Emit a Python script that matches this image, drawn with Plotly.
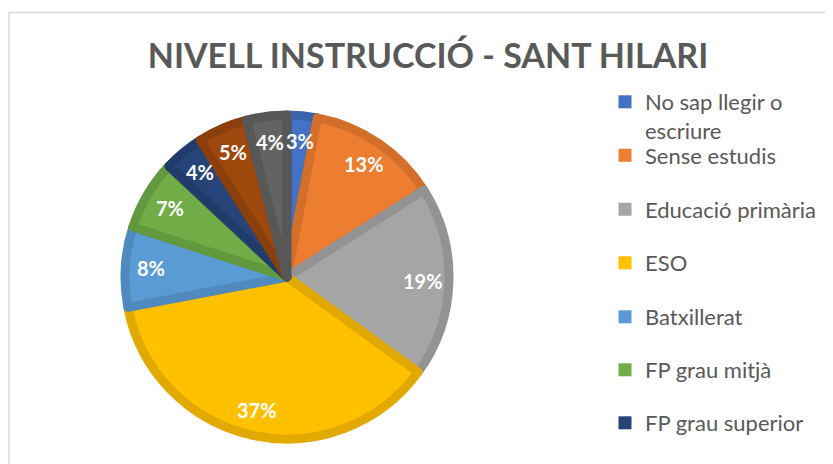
import math
import plotly.graph_objects as go

title = "NIVELL INSTRUCCIÓ - SANT HILARI"
categories = ["No sap llegir o escriure", "Sense estudis", "Educació primària", "ESO",
              "Batxillerat", "FP grau mitjà", "FP grau superior",
              "Estudis universitaris", "Postgrau"]
values = [3, 13, 19, 37, 8, 7, 4, 5, 4]
legend_labels = ["No sap llegir o<br>escriure", "Sense estudis", "Educació primària", "ESO",
                 "Batxillerat", "FP grau mitjà", "FP grau superior"]

fill_colors = ["#4472C4", "#ED7D31", "#A5A5A5", "#FFC000", "#5B9BD5",
               "#70AD47", "#264478", "#9E480E", "#636363"]
edge_colors = ["#3B64AE", "#D46F2B", "#939393", "#E2AA00", "#4F89BE",
               "#62993E", "#213C6A", "#8B3F0C", "#575757"]

W, H = 833, 464
OFF = 8  # page body margin offset
fig = go.Figure()

# pie geometry (figure pixels)
cx, cy, r = 287 - OFF, 277 - OFF, 162
fig.add_trace(go.Pie(
    labels=categories, values=values, sort=False, direction="clockwise", rotation=0,
    marker=dict(colors=fill_colors, line=dict(color=edge_colors, width=9)),
    textinfo="none",
    domain=dict(x=[(cx - r) / W, (cx + r) / W], y=[(H - cy - r) / H, (H - cy + r) / H]),
    showlegend=False, hoverinfo="label+percent",
))

# percentage labels placed on a pixel-mapped cartesian axis, computed from the data
total = sum(values)
annotations = []
cum = 0
k = 0.82
for v in values:
    mid = (cum + v / 2) / total * 2 * math.pi
    annotations.append(dict(
        x=cx + k * (r + 4) * math.sin(mid), y=cy - k * (r + 4) * math.cos(mid),
        xref="x", yref="y", text=f"{round(v / total * 100)}%", showarrow=False,
        xanchor="center", yanchor="middle",
        font=dict(family="Lato", size=20, color="white", weight="bold"),
    ))
    cum += v

# legend entries (one legend each so their positions can match)
legend_y = [103, 155.5, 209.5, 263, 317, 370, 423]
layout_legends = {}
for i, lab in enumerate(legend_labels):
    name = "legend" if i == 0 else f"legend{i+1}"
    fig.add_trace(go.Scatter(
        x=[None], y=[None], mode="markers", name=lab,
        marker=dict(symbol="square", size=13, color=fill_colors[i]),
        legend=name, showlegend=True,
    ))
    layout_legends[name] = dict(
        x=597 / W, y=(H - (legend_y[i] - OFF)) / H, xanchor="left",
        yanchor="top" if i == 0 else "middle",
        valign="top",
        font=dict(family="Lato", size=22, color="#595959"),
        bgcolor="rgba(0,0,0,0)", borderwidth=0,
        itemclick=False, itemdoubleclick=False,
    )
layout_legends["legend"]["y"] = (H - 73) / H

fig.update_layout(
    width=W, height=H,
    margin=dict(l=0, r=0, t=0, b=0),
    paper_bgcolor="white", plot_bgcolor="white",
    xaxis=dict(visible=False, range=[0, W], domain=[0, 1], fixedrange=True),
    yaxis=dict(visible=False, range=[H, 0], domain=[0, 1], fixedrange=True),
    title=dict(text=title, x=(428 - OFF) / W, xanchor="center", y=(H - (56 - OFF)) / H,
               yanchor="middle",
               font=dict(family="Lato", size=34, color="#595959", weight="bold")),
    shapes=[dict(type="rect", xref="paper", yref="paper",
                 x0=(9 - OFF) / W, x1=1.05, y0=-0.05, y1=(H - (12.5 - OFF)) / H,
                 line=dict(color="#D9D9D9", width=1.5), layer="below")],
    annotations=annotations,
    **layout_legends,
)

fig.write_html("out.html")
